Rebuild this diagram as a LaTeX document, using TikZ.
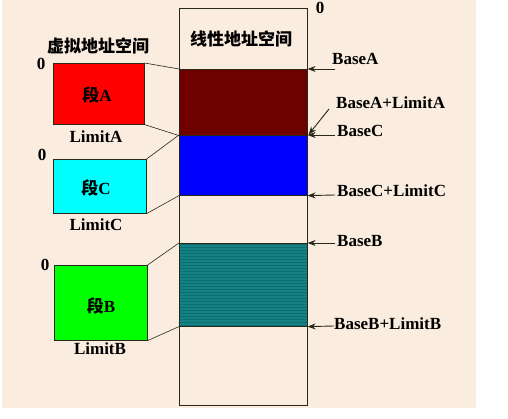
\documentclass[tikz,border=0pt]{standalone}
\usepackage{fontspec}
\setmainfont{Liberation Serif}
\newfontfamily\cjk{Noto Sans CJK SC Bold}
\usetikzlibrary{arrows.meta,patterns}
\definecolor{paper}{RGB}{250,236,222}
\definecolor{edge}{RGB}{40,40,25}
\definecolor{darkred}{RGB}{110,0,0}
\definecolor{segcyan}{RGB}{0,255,255}
\definecolor{seggreen}{RGB}{0,255,0}
\definecolor{segred}{RGB}{255,0,0}
\definecolor{segblue}{RGB}{0,0,255}
\definecolor{tealblk}{RGB}{20,130,132}
\definecolor{tealdark}{RGB}{14,108,115}
\begin{document}
\begin{tikzpicture}[x=1pt,y=-1pt,
    lbl/.style={font=\fontsize{17}{19}\selectfont\bfseries, inner sep=0pt},
    seg/.style={draw=edge, line width=0.6pt, inner sep=0pt, anchor=north west},
    link/.style={draw=edge, line width=0.6pt},
    ptr/.style={-{Stealth[length=8pt,width=6pt]}, line width=0.9pt, draw=edge}]
    \useasboundingbox (0,0) rectangle (508,419);
    \fill[paper] (2,0) rectangle (476,408);
    % linear address space
    \node[seg, fill=darkred, minimum width=128pt, minimum height=66pt] (blkA) at (179,69) {};
    \node[seg, fill=segblue, minimum width=128pt, minimum height=60pt] (blkC) at (179,135) {};
    \node[seg, fill=tealblk, minimum width=128pt, minimum height=83pt,
        postaction={pattern=horizontal lines, pattern color=tealdark}] (blkB) at (179,243) {};
    \node[seg, line width=1pt, minimum width=128pt, minimum height=397pt] (lin) at (179,8) {};
    \node[lbl] (linTitle) at (241,39) {\cjk 线性地址空间};
    \node[lbl] (zeroLin) at (320,8) {0};
    % virtual address space
    \node[lbl] (virTitle) at (98,46) {\cjk 虚拟地址空间};
    \node[seg, fill=segred, minimum width=91pt, minimum height=61pt] (segA) at (53,63) {};
    \node[seg, fill=segcyan, minimum width=93pt, minimum height=54pt] (segC) at (53,159) {};
    \node[seg, fill=seggreen, minimum width=93pt, minimum height=75pt] (segB) at (54,265) {};
    \node[lbl] at (97,95) {{\cjk 段}A};
    \node[lbl] at (96,188) {{\cjk 段}C};
    \node[lbl] at (101,306) {{\cjk 段}B};
    \foreach \nm/\x/\y in {A/41/64, C/42/155, B/45/265} {
        \node[lbl] (zero\nm) at (\x,\y) {0};
    }
    \foreach \nm/\x/\y in {A/96/137, C/96/225, B/100/349} {
        \node[lbl] (lim\nm) at (\x,\y) {Limit\nm};
    }
    \foreach \nm in {A,C,B} {
        \draw[link] (seg\nm.north east) -- (blk\nm.north west);
        \draw[link] (seg\nm.south east) -- (blk\nm.south west);
    }
    % base pointers
    \node[lbl, anchor=west] (baseA) at (332,59) {BaseA};
    \node[lbl, anchor=west] (endA) at (336,103) {BaseA+LimitA};
    \node[lbl, anchor=west] (baseC) at (337,131) {BaseC};
    \node[lbl, anchor=west] (endC) at (337,191) {BaseC+LimitC};
    \node[lbl, anchor=west] (baseB) at (337,241) {BaseB};
    \node[lbl, anchor=west] (endB) at (334,324) {BaseB+LimitB};
    \coordinate (tA) at (335,69);
    \coordinate (tAL) at (329,109);
    \coordinate (tC) at (335,135);
    \coordinate (tCL) at (335,195);
    \coordinate (tB) at (335,243);
    \coordinate (tBL) at (334,326);
    \draw[ptr] (tA) -- (blkA.north east);
    \draw[ptr] (tAL) -- ([shift={(1,-1)}]blkA.south east);
    \draw[ptr] (tC) -- (blkC.north east);
    \draw[ptr] (tCL) -- (blkC.south east);
    \draw[ptr] (tB) -- (blkB.north east);
    \draw[ptr] (tBL) -- (blkB.south east);
\end{tikzpicture}
\end{document}
